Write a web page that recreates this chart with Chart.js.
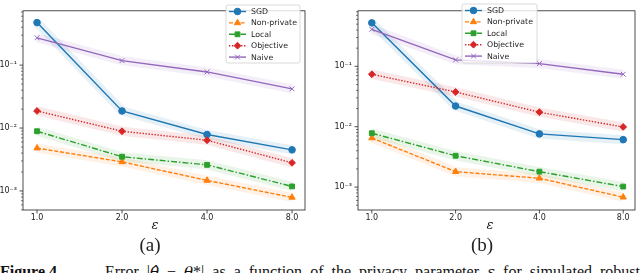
<!DOCTYPE html>
<html>
<head>
<meta charset="utf-8">
<script src="https://cdn.jsdelivr.net/npm/chart.js@4.4.0/dist/chart.umd.min.js"></script>
<style>
  html, body { margin: 0; padding: 0; background: #fff; }
  #page { position: relative; width: 640px; height: 273px; overflow: hidden; }
  canvas { position: absolute; top: 0; }
  .lbl { position: absolute; color: #222; white-space: nowrap; transform: translateX(-50%); line-height: 1; }
  .eps { font-family: 'DejaVu Serif', serif; font-style: italic; font-size: 13px; top: 218px; }
  .sub { font-family: 'Liberation Serif', serif; font-size: 19px; top: 235px; }
  #cap { position: absolute; left: 0; top: 264px; font-family: 'Liberation Serif', serif; font-size: 16px;
         line-height: 1; white-space: nowrap; color: #111; }
  #capRest { position: absolute; left: 105px; top: 0; }
  .th { font-family: 'DejaVu Serif', serif; font-style: italic; font-size: 15px; }
</style>
</head>
<body>
<div id="page">
  <canvas id="chartA" width="320" height="232" style="left:0"></canvas>
  <canvas id="chartB" width="320" height="232" style="left:320px"></canvas>
  <div class="lbl eps" style="left:155px">ε</div>
  <div class="lbl eps" style="left:490px">ε</div>
  <div class="lbl sub" style="left:150px">(a)</div>
  <div class="lbl sub" style="left:482px">(b)</div>
  <div id="cap"><b>Figure 4.</b><span id="capRest">Error |<span class="th">θ̂</span> − <span class="th">θ</span>*| as a function of the privacy parameter <span class="th">ε</span> for simulated robust</span></div>
</div>
<script>
// privacy parameter epsilon
const epsilons = [1, 2, 4, 8];

// panel (a)
const sgdA       = [0.475, 0.0187, 0.0079, 0.0045];
const nonPrivA   = [0.0048, 0.0029, 0.00147, 0.00079];
const localA     = [0.0089, 0.0035, 0.0026, 0.00118];
const objectiveA = [0.0187, 0.0089, 0.0064, 0.0028];
const naiveA     = [0.272, 0.118, 0.078, 0.042];

// panel (b)
const sgdB       = [0.525, 0.022, 0.0076, 0.0061];
const nonPrivB   = [0.0065, 0.0018, 0.0014, 0.00068];
const localB     = [0.0078, 0.0033, 0.0018, 0.00102];
const objectiveB = [0.074, 0.0376, 0.0174, 0.0099];
const naiveB     = [0.41, 0.128, 0.111, 0.074];

const methodNames = ['SGD', 'Non-private', 'Local', 'Objective', 'Naive'];

const styles = [
    { color: '#1f77b4', rgb: '31,119,180',  dash: [],            point: 'circle',   radius: 3.3 },
    { color: '#ff7f0e', rgb: '255,127,14',  dash: [4, 1.8],      point: 'triangle', radius: 3.6 },
    { color: '#2ca02c', rgb: '44,160,44',   dash: [6, 2, 1.5, 2], point: 'rect',    radius: 3.4 },
    { color: '#d62728', rgb: '214,39,40',   dash: [1.4, 1.6],    point: 'rectRot',  radius: 3.4 },
    { color: '#9467bd', rgb: '148,103,189', dash: [],            point: 'crossRot', radius: 3.4 },
];

const tickFont = { family: 'DejaVu Sans', size: 8 };
const sup = { '-': '⁻', '0': '⁰', '1': '¹', '2': '²', '3': '³', '4': '⁴' };

function isDecade(v) {
    const l = Math.log10(v);
    return Math.abs(l - Math.round(l)) < 1e-6;
}

// frame, tick marks and matplotlib-like legend
const mplPlugin = {
    id: 'mpl',
    afterDatasetsDraw(chart, args, opts) {
        const ctx = chart.ctx;
        const a = chart.chartArea;
        ctx.save();
        ctx.strokeStyle = '#222';
        ctx.lineWidth = 0.8;
        ctx.strokeRect(a.left, a.top, a.right - a.left, a.bottom - a.top);
        // y ticks
        chart.scales.y.ticks.forEach(t => {
            const y = chart.scales.y.getPixelForValue(t.value);
            const major = isDecade(t.value);
            ctx.lineWidth = major ? 0.8 : 0.6;
            ctx.beginPath();
            ctx.moveTo(a.left - (major ? 3.5 : 2), y);
            ctx.lineTo(a.left, y);
            ctx.stroke();
        });
        // x ticks
        ctx.lineWidth = 0.8;
        chart.scales.x.ticks.forEach(t => {
            const x = chart.scales.x.getPixelForValue(t.value);
            ctx.beginPath();
            ctx.moveTo(x, a.bottom);
            ctx.lineTo(x, a.bottom + 3.5);
            ctx.stroke();
        });

        // legend
        const lx = opts.x, ly = opts.y, lw = opts.w, lh = opts.h;
        ctx.fillStyle = 'rgba(255,255,255,0.8)';
        ctx.strokeStyle = '#d0d0d0';
        ctx.lineWidth = 0.8;
        ctx.beginPath();
        ctx.roundRect(lx, ly, lw, lh, 2);
        ctx.fill();
        ctx.stroke();
        ctx.font = '7.8px "DejaVu Sans"';
        ctx.textBaseline = 'middle';
        methodNames.forEach((name, i) => {
            const s = styles[i];
            const yy = ly + 6.5 + i * 11.4;
            ctx.strokeStyle = s.color;
            ctx.lineWidth = 1.4;
            ctx.setLineDash(s.dash);
            ctx.beginPath();
            ctx.moveTo(lx + 3, yy);
            ctx.lineTo(lx + 20, yy);
            ctx.stroke();
            ctx.setLineDash([]);
            ctx.fillStyle = s.color;
            ctx.lineWidth = 1;
            Chart.helpers.drawPoint(ctx, { pointStyle: s.point, radius: s.radius, rotation: 0, borderWidth: 1 }, lx + 11.5, yy);
            ctx.fillStyle = '#222';
            ctx.fillText(name, lx + 25, yy + 0.5);
        });
        ctx.restore();
    }
};

function makeChart(id, seriesList, o) {
    const datasets = [];
    seriesList.forEach((vals, i) => {
        const s = styles[i];
        const pts = epsilons.map((e, k) => ({ x: e, y: vals[k] }));
        datasets.push({
            label: methodNames[i],
            data: pts,
            borderColor: s.color,
            backgroundColor: s.color,
            borderWidth: 1.4,
            borderDash: s.dash,
            pointStyle: s.point,
            pointRadius: s.radius,
            pointBackgroundColor: s.color,
            pointBorderColor: s.color,
            pointBorderWidth: 1,
            order: 5 - i,
        });
        // shaded uncertainty band
        datasets.push({
            label: methodNames[i] + ' band',
            data: pts,
            borderColor: 'rgba(' + s.rgb + ',0.11)',
            borderWidth: 9,
            borderCapStyle: 'butt',
            borderJoinStyle: 'round',
            pointRadius: 0,
            order: 20 - i,
        });
    });

    return new Chart(document.getElementById(id), {
        type: 'line',
        data: { datasets: datasets },
        options: {
            responsive: false,
            animation: false,
            devicePixelRatio: 1,
            layout: { padding: { left: 0, top: 1, right: o.padRight, bottom: 0 } },
            plugins: {
                legend: { display: false },
                tooltip: { enabled: false },
                mpl: o.legend,
            },
            scales: {
                x: {
                    type: 'logarithmic',
                    min: o.xMin,
                    max: o.xMax,
                    afterBuildTicks: s => { s.ticks = epsilons.map(v => ({ value: v })); },
                    afterFit: s => { s.height = 22; },
                    ticks: {
                        callback: v => Number(v).toFixed(1),
                        font: tickFont,
                        color: '#222',
                        padding: 3.5,
                        maxRotation: 0,
                        autoSkip: false,
                    },
                    grid: { display: false, drawTicks: false },
                    border: { display: false },
                },
                y: {
                    type: 'logarithmic',
                    min: o.yMin,
                    max: o.yMax,
                    afterBuildTicks: s => {
                        const t = [];
                        for (let e = -4; e <= 0; e++) {
                            for (let m = 1; m <= 9; m++) {
                                const v = parseFloat((m * Math.pow(10, e)).toPrecision(6));
                                if (v >= o.yMin && v <= o.yMax) t.push({ value: v });
                            }
                        }
                        s.ticks = t;
                    },
                    afterFit: s => { s.width = o.yWidth; },
                    ticks: {
                        callback: v => {
                            if (!isDecade(v)) return '';
                            const e = String(Math.round(Math.log10(v)));
                            return '10' + e.split('').map(c => sup[c]).join('');
                        },
                        font: tickFont,
                        color: '#222',
                        padding: 6,
                        autoSkip: false,
                    },
                    grid: { display: false, drawTicks: false },
                    border: { display: false },
                },
            },
        },
        plugins: [mplPlugin],
    });
}

makeChart('chartA', [sgdA, nonPrivA, localA, objectiveA, naiveA], {
    xMin: 0.892, xMax: 8.89, yMin: 4.98e-4, yMax: 0.731,
    yWidth: 23, padRight: 15,
    legend: { x: 226, y: 5, w: 74, h: 58 },
});

makeChart('chartB', [sgdB, nonPrivB, localB, objectiveB, naiveB], {
    xMin: 0.892, xMax: 8.82, yMin: 4.17e-4, yMax: 0.832,
    yWidth: 38, padRight: 1,
    legend: { x: 142, y: 4, w: 75, h: 59 },
});

// spread the caption text across the line like the justified original
const rest = document.getElementById('capRest');
const gaps = rest.textContent.split(' ').length - 1;
const extra = (535 - rest.getBoundingClientRect().width) / gaps;
rest.style.wordSpacing = extra + 'px';
</script>
</body>
</html>
